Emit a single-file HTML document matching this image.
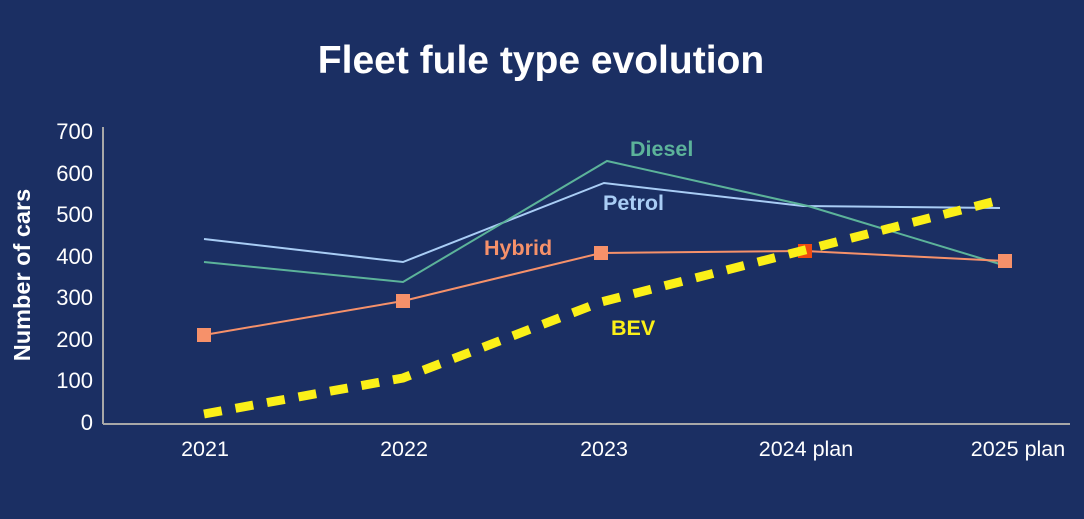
<!DOCTYPE html>
<html><head><style>
html,body{margin:0;padding:0;background:#1b2f63;}
svg{display:block;font-family:"Liberation Sans",sans-serif;}
</style></head><body>
<svg width="1084" height="519" viewBox="0 0 1084 519">
<rect width="1084" height="519" fill="#1b2f63"/>
<text x="541" y="73" text-anchor="middle" fill="#fff" font-size="39" font-weight="bold">Fleet fule type evolution</text>
<line x1="103" y1="127" x2="103" y2="424" stroke="#a8a8a8" stroke-width="2"/>
<line x1="103" y1="424" x2="1070" y2="424" stroke="#a8a8a8" stroke-width="2"/>
<g fill="#fff" font-size="22" text-anchor="end">
<text x="93" y="139">700</text><text x="93" y="181">600</text><text x="93" y="222">500</text>
<text x="93" y="264">400</text><text x="93" y="305">300</text><text x="93" y="347">200</text>
<text x="93" y="388">100</text><text x="93" y="430">0</text>
</g>
<g fill="#fff" font-size="21.5" text-anchor="middle">
<text x="205" y="456">2021</text><text x="404" y="456">2022</text><text x="604" y="456">2023</text>
<text x="806" y="456">2024 plan</text><text x="1018" y="456">2025 plan</text>
</g>
<text transform="translate(30,275) rotate(-90)" fill="#fff" font-size="23.5" font-weight="bold" text-anchor="middle">Number of cars</text>
<polyline points="204,239 403,262 604,183 803,206 1000,208" fill="none" stroke="#a9cdf5" stroke-width="2"/>
<polyline points="204,262 403,282 607,161 808,206 1003,265" fill="none" stroke="#5cb39a" stroke-width="2"/>
<polyline points="204,335 403,301 601,253 805,251 1005,261" fill="none" stroke="#f6916a" stroke-width="2"/>
<g fill="#f6916a">
<rect x="197" y="328" width="14" height="14"/><rect x="396" y="294" width="14" height="14"/>
<rect x="594" y="246" width="14" height="14"/><rect x="998" y="254" width="14" height="14"/>
</g>
<rect x="798" y="244" width="14" height="14" fill="#f04a10"/>
<polyline points="204,414 403,378 601,302 805,250 1000,200" fill="none" stroke="#fbf018" stroke-width="9" stroke-dasharray="18,14"/>
<g font-size="21.5" font-weight="bold">
<text x="630" y="156" fill="#5cb39a">Diesel</text>
<text x="603" y="210" fill="#a9cdf5">Petrol</text>
<text x="484" y="255" fill="#f6916a">Hybrid</text>
<text x="611" y="335" fill="#fbf018">BEV</text>
</g>
</svg>
</body></html>
